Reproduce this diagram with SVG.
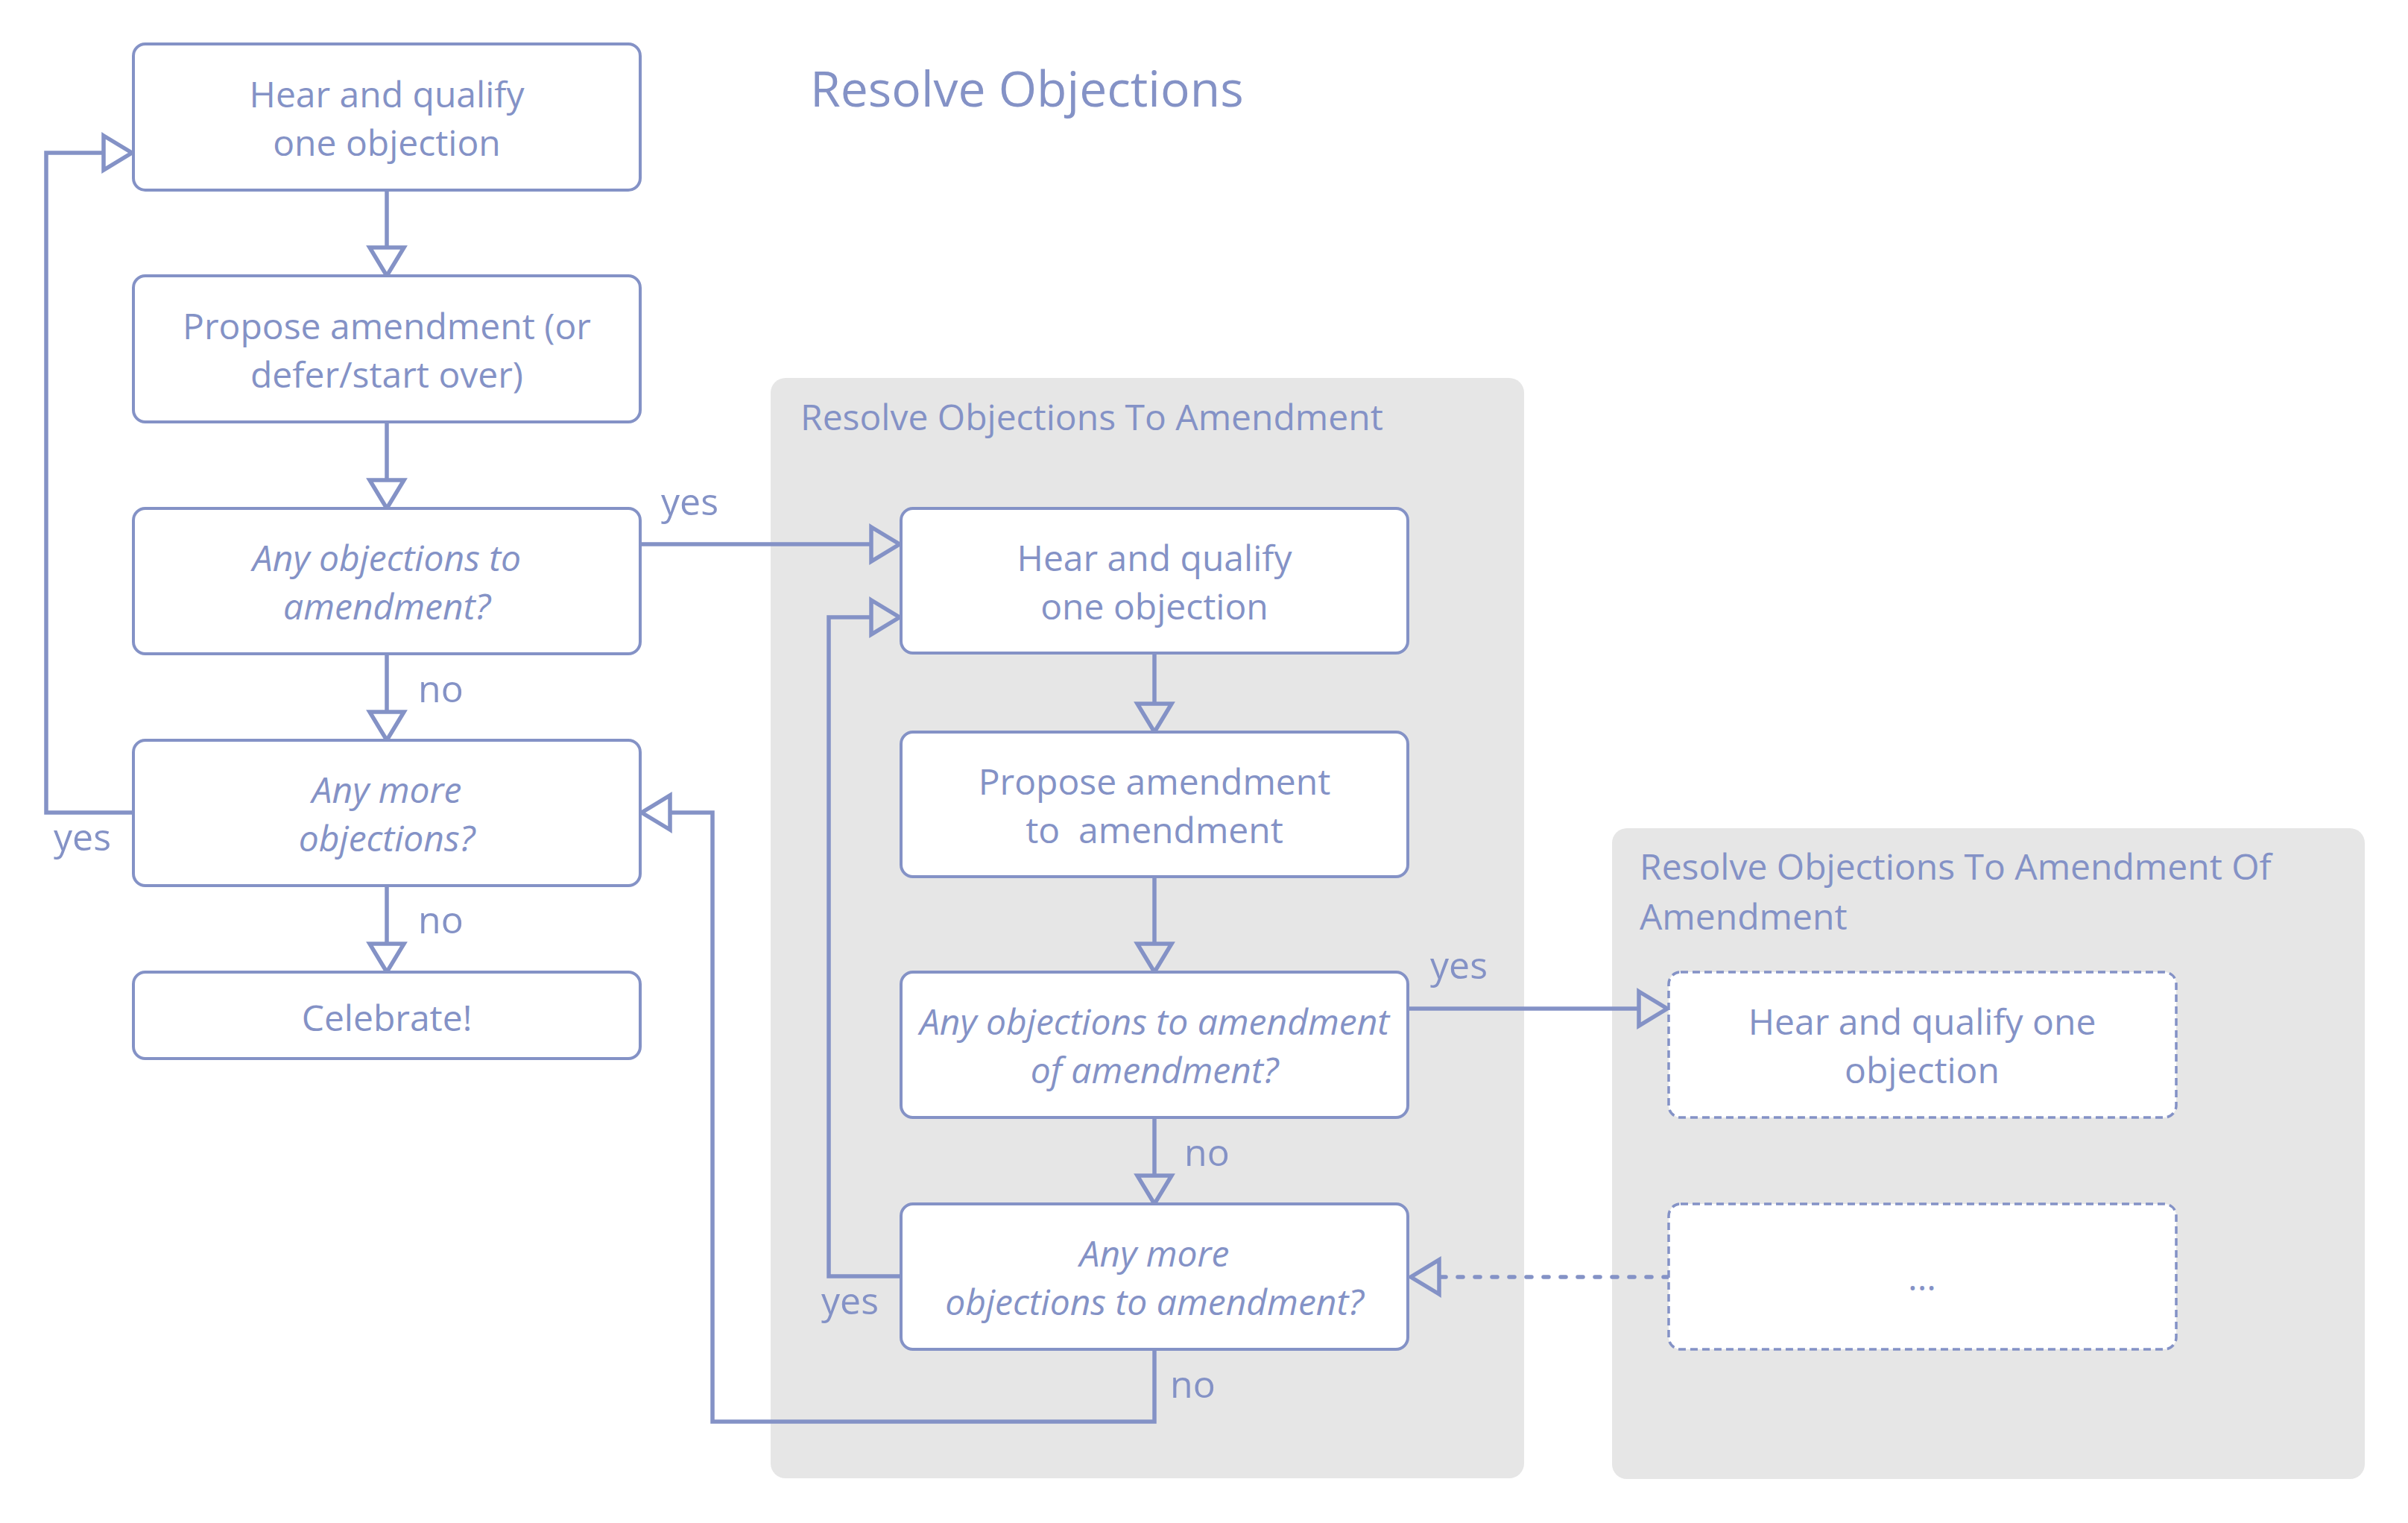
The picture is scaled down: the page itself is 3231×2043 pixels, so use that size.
<svg xmlns="http://www.w3.org/2000/svg" width="3231" height="2043" viewBox="0 0 3231 2043">
<defs>
<style>
text{font-family:"Open Sans","Noto Sans","Liberation Sans",sans-serif;fill:#8492c6;}
.t{font-size:48px;text-anchor:middle;}
.i{font-style:italic;}
.lbl{font-size:50px;}
.grp{font-size:48px;}
.title{font-size:66px;}
.box{fill:#ffffff;stroke:#8492c6;stroke-width:4;}
.dbox{fill:#ffffff;stroke:#8492c6;stroke-width:3.5;stroke-dasharray:10 6;}
.cluster{fill:#e6e6e6;stroke:none;}
.c{fill:none;stroke:#8492c6;stroke-width:5.5;marker-end:url(#arr);}
.dash{stroke-dasharray:7 16;stroke-linecap:round;}
</style>
<marker id="arr" markerUnits="userSpaceOnUse" markerWidth="50" markerHeight="56" refX="2" refY="25" orient="auto" overflow="visible">
<path d="M2,2 L40,25 L2,48 Z" fill="none" stroke="#8492c6" stroke-width="5.5" stroke-linejoin="miter"/>
</marker>
</defs>
<rect width="3231" height="2043" fill="#ffffff"/>
<text class="title" x="1087" y="143">Resolve Objections</text>
<g id="cluster1">
<rect class="cluster" x="1034" y="507" width="1011" height="1476" rx="20"/>
<text class="grp" x="1074" y="577">Resolve Objections To Amendment</text>
</g>
<g id="cluster2">
<rect class="cluster" x="2163" y="1111" width="1010" height="873" rx="20"/>
<text class="grp" x="2200" y="1180">Resolve Objections To Amendment Of</text>
<text class="grp" x="2200" y="1247">Amendment</text>
</g>
<g id="connectors">
<path class="c" d="M519,255 V332"/>
<path class="c" d="M519,566 V644"/>
<path class="c" d="M519,877 V955"/>
<path class="c" d="M519,1188 V1266"/>
<path class="c" d="M179,1090 H62 V205 H139"/>
<path class="c" d="M859,730 H1169"/>
<path class="c" d="M1549,876 V944"/>
<path class="c" d="M1549,1176 V1266"/>
<path class="c" d="M1549,1499 V1577"/>
<path class="c" d="M1209,1712 H1112 V828 H1169"/>
<path class="c" d="M1549,1810 V1907 H956 V1090 H899"/>
<path class="c" d="M1889,1353 H2199"/>
<path class="c dash" d="M2239,1713 H1931"/>
<text class="lbl" x="561" y="942">no</text>
<text class="lbl" x="561" y="1252">no</text>
<text class="lbl" x="72" y="1141">yes</text>
<text class="lbl" x="887" y="691">yes</text>
<text class="lbl" x="1589" y="1564">no</text>
<text class="lbl" x="1102" y="1763">yes</text>
<text class="lbl" x="1570" y="1875">no</text>
<text class="lbl" x="1919" y="1313">yes</text>
</g>
<g id="n1">
<rect class="box" x="179" y="59" width="680" height="196" rx="16"/>
<text class="t" x="519" y="144">Hear and qualify</text>
<text class="t" x="519" y="209">one objection</text>
</g>
<g id="n2">
<rect class="box" x="179" y="370" width="680" height="196" rx="16"/>
<text class="t" x="519" y="455">Propose amendment (or</text>
<text class="t" x="519" y="520">defer/start over)</text>
</g>
<g id="n3">
<rect class="box" x="179" y="682" width="680" height="195" rx="16"/>
<text class="t i" x="519" y="766">Any objections to</text>
<text class="t i" x="519" y="831">amendment?</text>
</g>
<g id="n4">
<rect class="box" x="179" y="993" width="680" height="195" rx="16"/>
<text class="t i" x="519" y="1077">Any more</text>
<text class="t i" x="519" y="1142">objections?</text>
</g>
<g id="n5">
<rect class="box" x="179" y="1304" width="680" height="116" rx="16"/>
<text class="t" x="519" y="1383">Celebrate!</text>
</g>
<g id="n6">
<rect class="box" x="1209" y="682" width="680" height="194" rx="16"/>
<text class="t" x="1549" y="766">Hear and qualify</text>
<text class="t" x="1549" y="831">one objection</text>
</g>
<g id="n7">
<rect class="box" x="1209" y="982" width="680" height="194" rx="16"/>
<text class="t" x="1549" y="1066">Propose amendment</text>
<text class="t" x="1549" y="1131">to&#160; amendment</text>
</g>
<g id="n8">
<rect class="box" x="1209" y="1304" width="680" height="195" rx="16"/>
<text class="t i" x="1549" y="1388">Any objections to amendment</text>
<text class="t i" x="1549" y="1453">of amendment?</text>
</g>
<g id="n9">
<rect class="box" x="1209" y="1615" width="680" height="195" rx="16"/>
<text class="t i" x="1549" y="1699">Any more</text>
<text class="t i" x="1549" y="1764">objections to amendment?</text>
</g>
<g id="n10">
<rect class="dbox" x="2239" y="1304" width="681" height="195" rx="16"/>
<text class="t" x="2579" y="1388">Hear and qualify one</text>
<text class="t" x="2579" y="1453">objection</text>
</g>
<g id="n11">
<rect class="dbox" x="2239" y="1615" width="681" height="195" rx="16"/>
<text class="t" x="2579" y="1731">...</text>
</g>
</svg>
